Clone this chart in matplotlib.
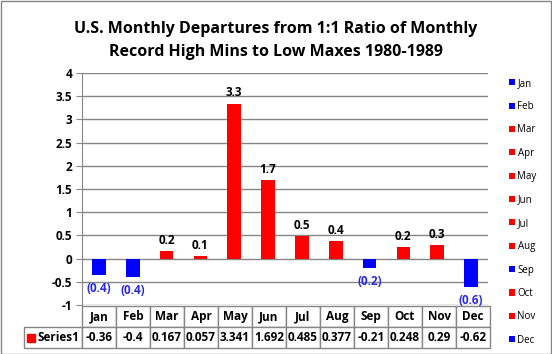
import numpy as np
import matplotlib.pyplot as plt
from matplotlib.patches import Rectangle

plt.rcParams.update({
    "font.family": ["Open Sans", "DejaVu Sans"],
    "font.weight": "bold",
})

months = ["Jan", "Feb", "Mar", "Apr", "May", "Jun",
          "Jul", "Aug", "Sep", "Oct", "Nov", "Dec"]
values = [-0.36, -0.4, 0.167, 0.057, 3.341, 1.692,
          0.485, 0.377, -0.21, 0.248, 0.29, -0.62]
series_name = "Series1"
title = ("U.S. Monthly Departures from 1:1 Ratio of Monthly\n"
         "Record High Mins to Low Maxes 1980-1989")

W, H = 552, 354
fig = plt.figure(figsize=(W / 100, H / 100), dpi=100)
# plot area in pixels: x 82..488, y 73..305
ax = fig.add_axes([82 / W, 1 - 305 / H, 406 / W, 232 / H])

blue, red = "#0000ff", "#ff0000"
colors = [blue if v < 0 else red for v in values]
x = np.arange(len(months))
bars = ax.bar(x, values, width=0.4, color=colors, zorder=3)

# data labels
for xi, v in zip(x, values):
    if v >= 0:
        ax.annotate(f"{v:.1f}", (xi, v), xytext=(0, 3), textcoords="offset points",
                    ha="center", va="bottom", fontsize=8.5, color="black")
    else:
        ax.annotate(f"({abs(v):.1f})", (xi, v), xytext=(0, -5), textcoords="offset points",
                    ha="center", va="top", fontsize=8.5, color="#2a2ae0")

ax.set_xlim(-0.5, len(months) - 0.5)
ax.set_ylim(-1, 4)
ticks = np.arange(-1, 4.01, 0.5)
ax.set_yticks(ticks)
ax.set_yticklabels([f"{t:g}" for t in ticks], fontsize=8.5)
ax.set_xticks([])
ax.grid(axis="y", color="#868686", lw=1, zorder=0)
for s in ["top", "right", "bottom"]:
    ax.spines[s].set_visible(False)
ax.spines["left"].set_color("#868686")
ax.tick_params(axis="y", color="#868686", length=4, pad=3)

# data table below the plot (first column holds the series name)
tab = ax.table(cellText=[[series_name] + [f"{v:g}" for v in values]],
               colLabels=[""] + months, cellLoc="center",
               colWidths=[58 / 406] + [34 / 406] * 12,
               bbox=[-58 / 406, -43 / 232, 466 / 406, 42 / 232])
tab.auto_set_font_size(False)
for (r, c), cell in tab.get_celld().items():
    cell.set_edgecolor("#868686")
    cell.set_linewidth(1)
    cell.get_text().set_fontsize(8.5)
    cell.get_text().set_fontweight("bold")
tab[0, 0].set_visible(False)
tab[1, 0].get_text().set_ha("left")
tab[1, 0].PAD = 0.24
ax.plot([-51 / 406], [-33 / 232], "s", color=red, ms=6,
        transform=ax.transAxes, clip_on=False)

# legend with one entry per bar
fig.legend(bars, months, loc="upper left", bbox_to_anchor=(500 / W, 1 - 69 / H),
           frameon=False, handlelength=0.6, handleheight=0.6,
           handletextpad=0.3, labelspacing=1.27, prop={"weight": "normal", "size": 7})

fig.suptitle(title, fontsize=11.5, fontweight="bold", y=1 - 21 / H, linespacing=1.55)
fig.patches.append(Rectangle((0.5 / W, 0.5 / H), 1 - 1.5 / W, 1 - 1.5 / H,
                             transform=fig.transFigure, fill=False,
                             edgecolor="#868686", lw=1))

fig.savefig("out.png", dpi=100)
